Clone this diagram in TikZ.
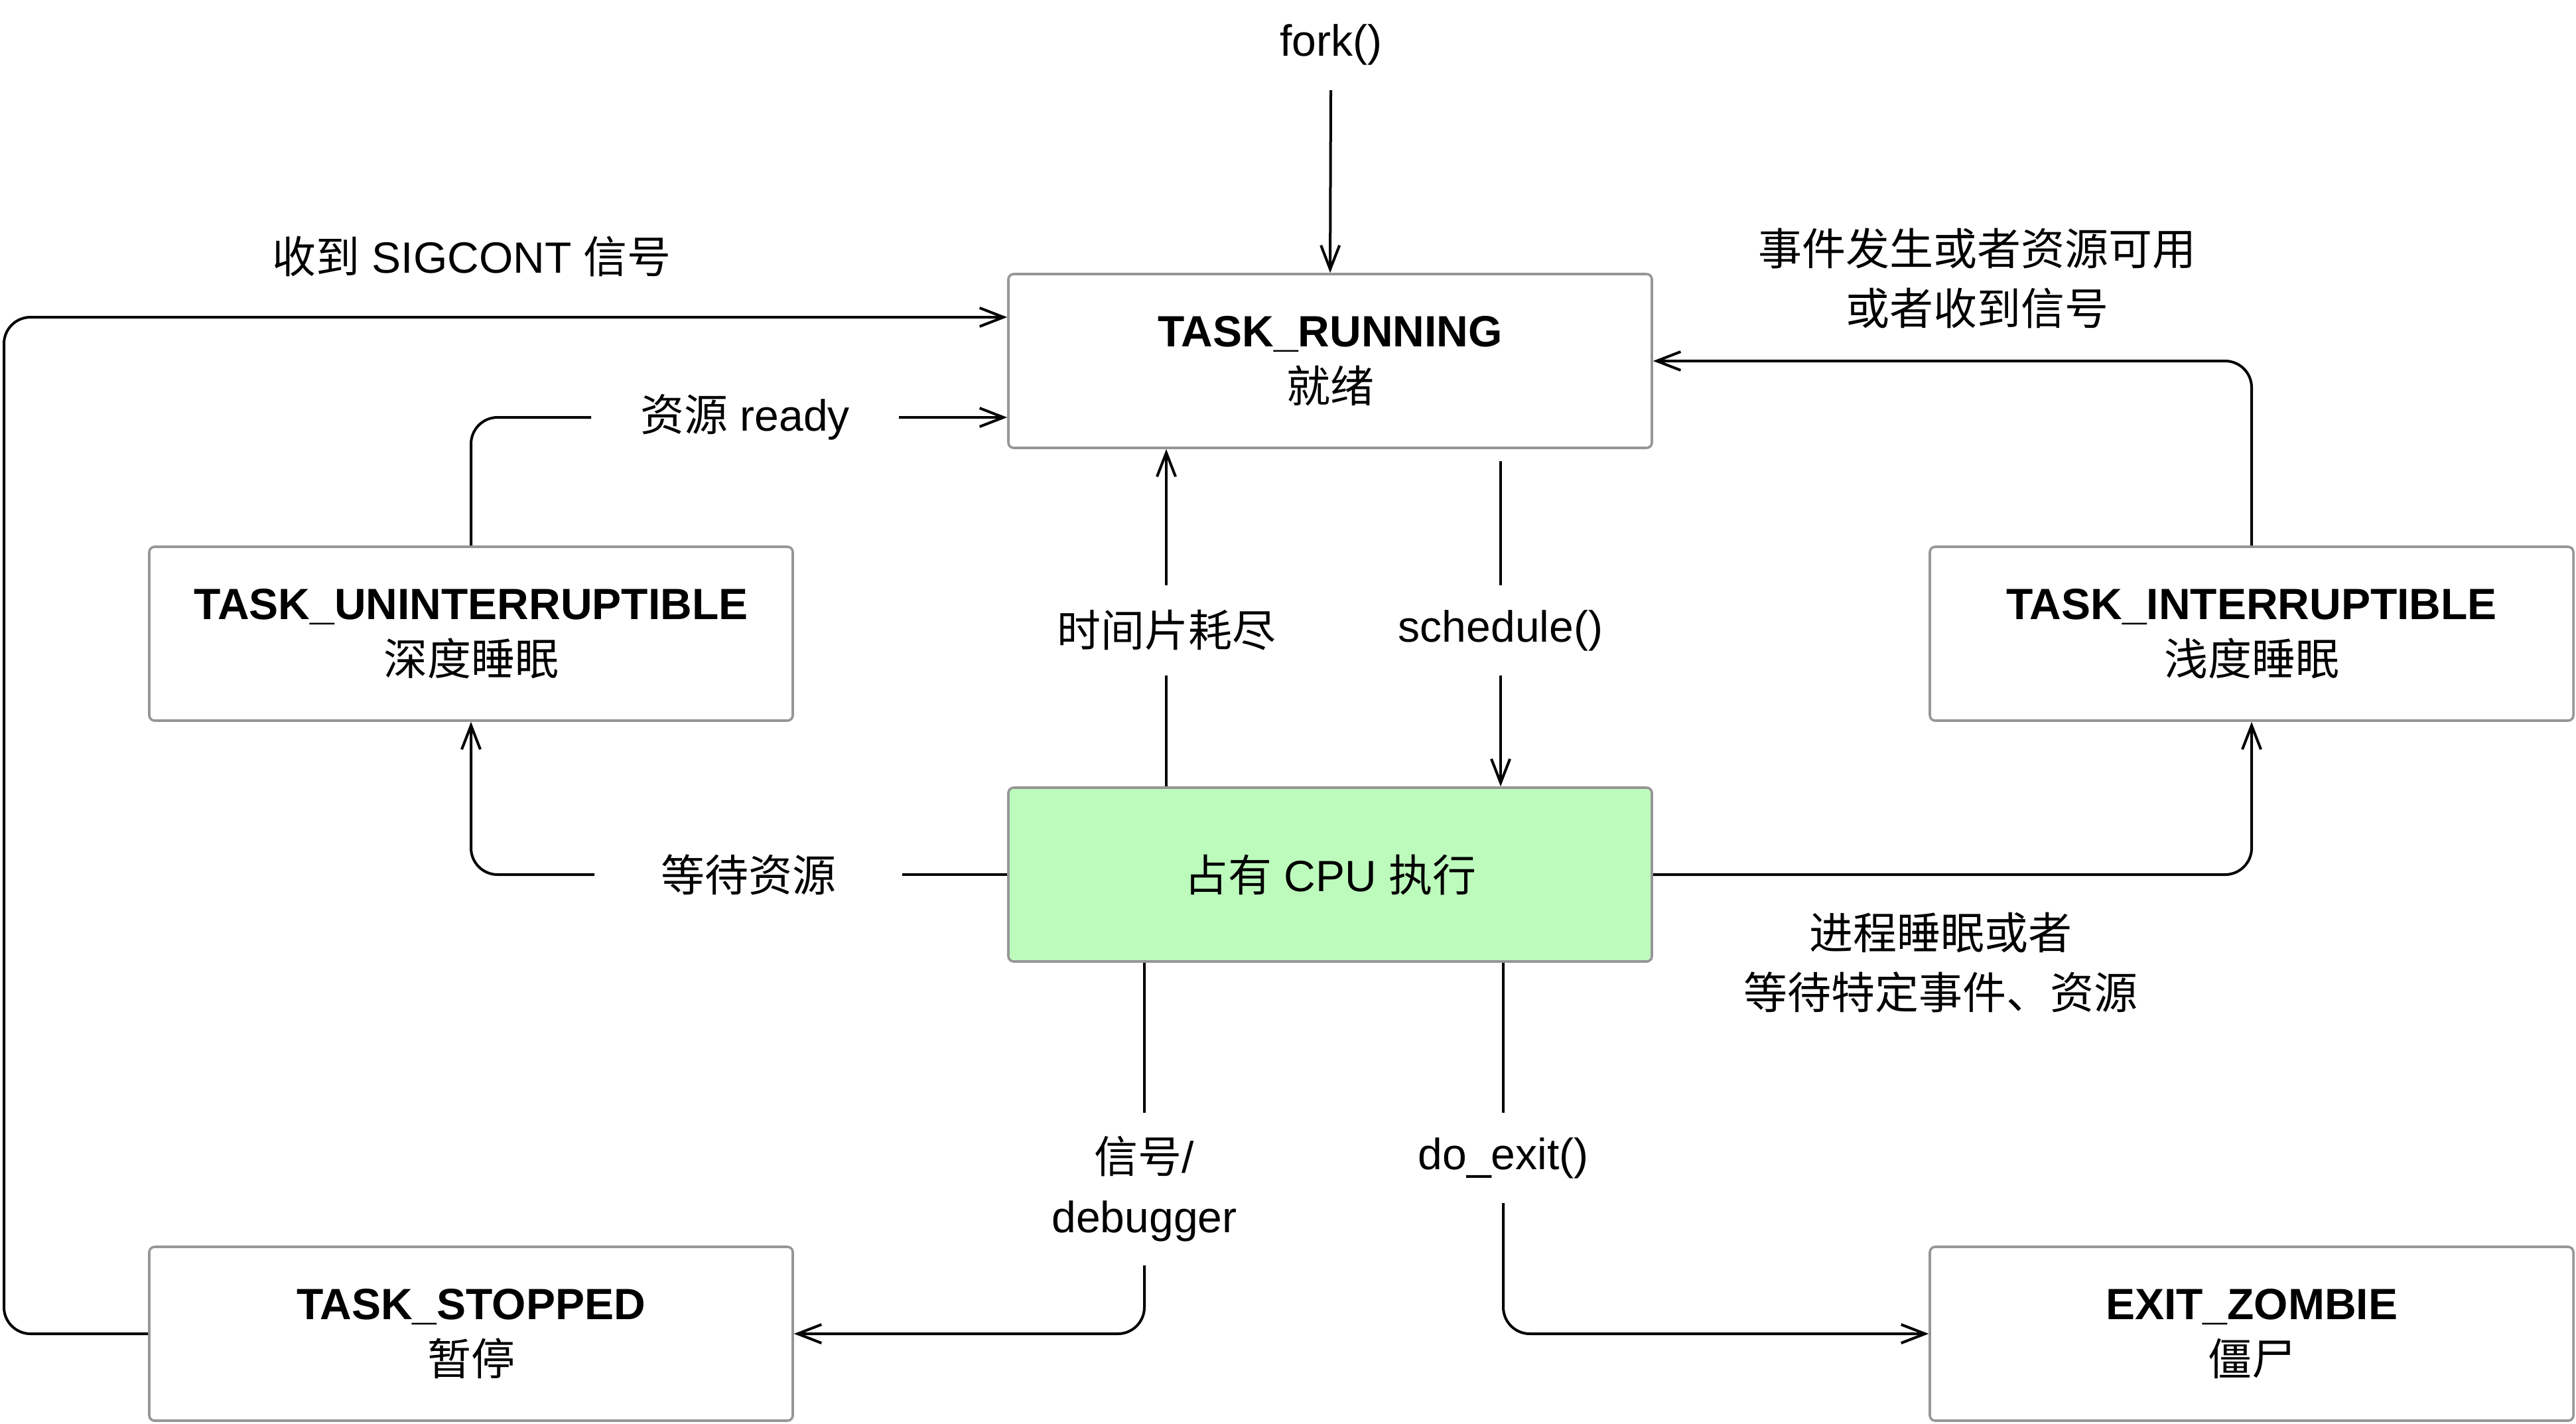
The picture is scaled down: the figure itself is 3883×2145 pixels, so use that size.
\documentclass[tikz,border=0pt]{standalone}
\usepackage{fontspec}
\setmainfont{Liberation Sans}
\newfontfamily\cjk{Noto Sans CJK SC}
\newcommand{\zh}[1]{{\cjk #1}}
\usetikzlibrary{arrows.meta}
\definecolor{cpugreen}{RGB}{189,251,189}
\definecolor{boxgray}{RGB}{150,150,150}
\begin{document}
\begin{tikzpicture}[x=0.25pt,y=-0.25pt,line width=1pt,
  box/.style={draw=boxgray, line width=0.9pt, rounded corners=2pt, fill=white,
    minimum width=242.5pt, minimum height=65.5pt, align=center, inner sep=0pt,
    font=\fontsize{16.5}{21}\selectfont},
  arr/.style={-{Straight Barb[length=9pt,width=7pt]}},
  lab/.style={font=\fontsize{16.5}{22.5}\selectfont, align=center, inner sep=0pt},
  hlab/.style={lab, minimum width=115pt},
  vlab/.style={lab, minimum height=33pt},
  rnd/.style={rounded corners=10pt}]
\useasboundingbox (0,0) rectangle (3883,2145);

% states
\node[box] (run) at (2005,544) {\textbf{TASK\_RUNNING}\\\zh{就绪}};
\node[box, fill=cpugreen] (cpu) at (2005,1318) {\zh{占有} CPU \zh{执行}};
\node[box] (unint) at (710,955) {\textbf{TASK\_UNINTERRUPTIBLE}\\\zh{深度睡眠}};
\node[box] (intr) at (3394,955) {\textbf{TASK\_INTERRUPTIBLE}\\\zh{浅度睡眠}};
\node[box] (stop) at (710,2010) {\textbf{TASK\_STOPPED}\\\zh{暂停}};
\node[box] (zomb) at (3394,2010) {\textbf{EXIT\_ZOMBIE}\\\zh{僵尸}};

% labels
\node[lab, inner ysep=9pt] (fork) at (2006,67) {fork()};
\node[lab] (sigc) at (711,386) {\zh{收到} SIGCONT \zh{信号}};
\node[hlab] (ready) at (1123,629) {\zh{资源} ready};
\node[lab] (evt) at (2980,419) {\zh{事件发生或者资源可用}\\\zh{或者收到信号}};
\node[vlab] (slice) at (1758,950) {\zh{时间片耗尽}};
\node[vlab] (sched) at (2262,950) {schedule()};
\node[hlab] (wait) at (1128,1318) {\zh{等待资源}};
\node[lab] (sleep) at (2925,1450) {\zh{进程睡眠或者}\\\zh{等待特定事件、资源}};
\node[lab, minimum height=56.5pt] (sig) at (1725,1792) {\zh{信号}/\\debugger};
\node[vlab] (exit) at (2266,1745) {do\_exit()};
\coordinate (sigL) at (6,478);

% connectors
\draw[arr] (fork.south) -- (run.north);
\draw[arr, rnd] (stop.west) -| (sigL) -- (run.west |- sigL);
\draw[rnd] (unint.north) |- (ready.west);
\draw[arr] (ready.east) -- (run.west |- ready.east);
\draw[arr, rnd] (intr.north) |- (run.east);
\draw (cpu.north -| slice) -- (slice.south);
\draw[arr] (slice.north) -- (run.south -| slice);
\draw[shorten <=4.5pt] (run.south -| sched) -- (sched.north);
\draw[arr] (sched.south) -- (cpu.north -| sched);
\draw (cpu.west) -- (wait.east);
\draw[arr, rnd] (wait.west) -| (unint.south);
\draw[arr, rnd] (cpu.east) -| (intr.south);
\draw (cpu.south -| sig) -- (sig.north);
\draw[arr, rnd] (sig.south) |- (stop.east);
\draw (cpu.south -| exit) -- (exit.north);
\draw[arr, rnd] (exit.south) |- (zomb.west);
\end{tikzpicture}
\end{document}
